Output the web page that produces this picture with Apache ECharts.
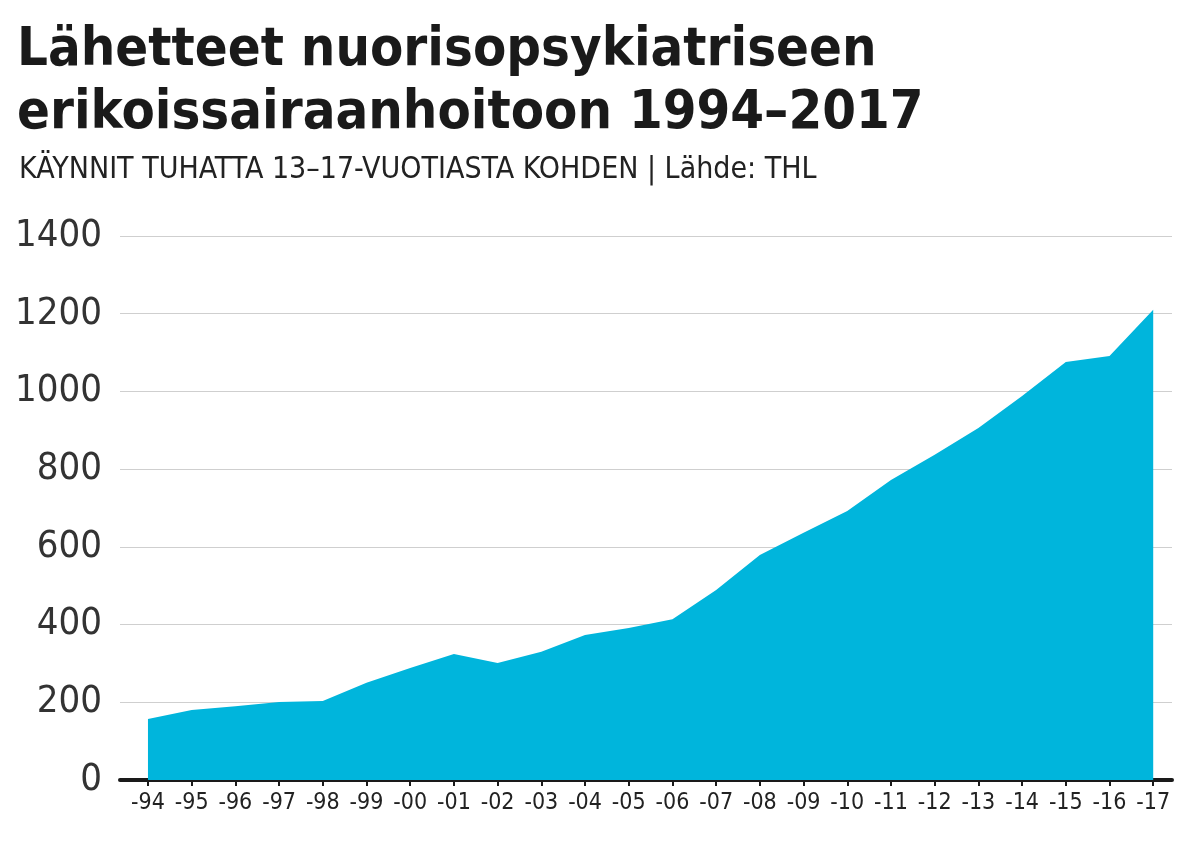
<!DOCTYPE html>
<html><head><meta charset="utf-8">
<script src="https://cdn.jsdelivr.net/npm/echarts@6/dist/echarts.min.js"></script>
<style>html,body{margin:0;background:#fff}#c{width:1198px;height:847px}</style>
</head><body><div id="c"></div>
<script>
const years = ['-94','-95','-96','-97','-98','-99','-00','-01','-02','-03','-04','-05','-06','-07','-08','-09','-10','-11','-12','-13','-14','-15','-16','-17'];
const visits = [157,180,190,201,203,250,288,324,301,330,373,391,414,489,579,636,692,772,837,906,988,1076,1091,1210];
const yTicks = [0,200,400,600,800,1000,1200,1400];
const idx = years.map((_, i) => i);
const FF = '"DejaVu Sans Condensed", Roboto, "Noto Sans", sans-serif';
const chart = echarts.init(document.getElementById('c'));
chart.setOption({
  animation:false,
  title:[
    {text:'Lähetteet nuorisopsykiatriseen\nerikoissairaanhoitoon 1994–2017',left:12,top:14,
     textStyle:{fontFamily:FF,fontWeight:'bold',fontSize:54,lineHeight:63,color:'#1a1a1a'}},
    {text:'KÄYNNIT TUHATTA 13–17-VUOTIASTA KOHDEN | Lähde: THL',left:14,top:150,
     textStyle:{fontFamily:FF,fontWeight:'normal',fontSize:30,color:'#222'}}
  ],
  grid:{left:120,right:26,top:236,bottom:67},
  xAxis:{type:'value',min:-0.64,max:23.43,
    axisLine:{show:true,onZero:false,lineStyle:{color:'#1a1a1a',width:4}},
    axisTick:{show:true,customValues:idx,length:6,lineStyle:{color:'#1a1a1a',width:2}},
    axisLabel:{customValues:idx,formatter:v=>years[Math.round(v)],fontFamily:FF,fontSize:23,color:'#222',margin:12},
    splitLine:{show:false}},
  yAxis:{type:'value',min:0,max:1400,interval:200,
    axisLine:{show:false},axisTick:{show:false},
    axisLabel:{customValues:yTicks,formatter:v=>String(v),fontFamily:FF,fontSize:38,color:'#333',margin:18},
    splitLine:{lineStyle:{color:'#cfcfcf',width:1}}},
  series:[{type:'line',data:visits.map((v,i)=>[i,v]),symbol:'none',
    lineStyle:{width:0},areaStyle:{color:'#00b5dc',opacity:1},z:1}]
});
</script></body></html>
